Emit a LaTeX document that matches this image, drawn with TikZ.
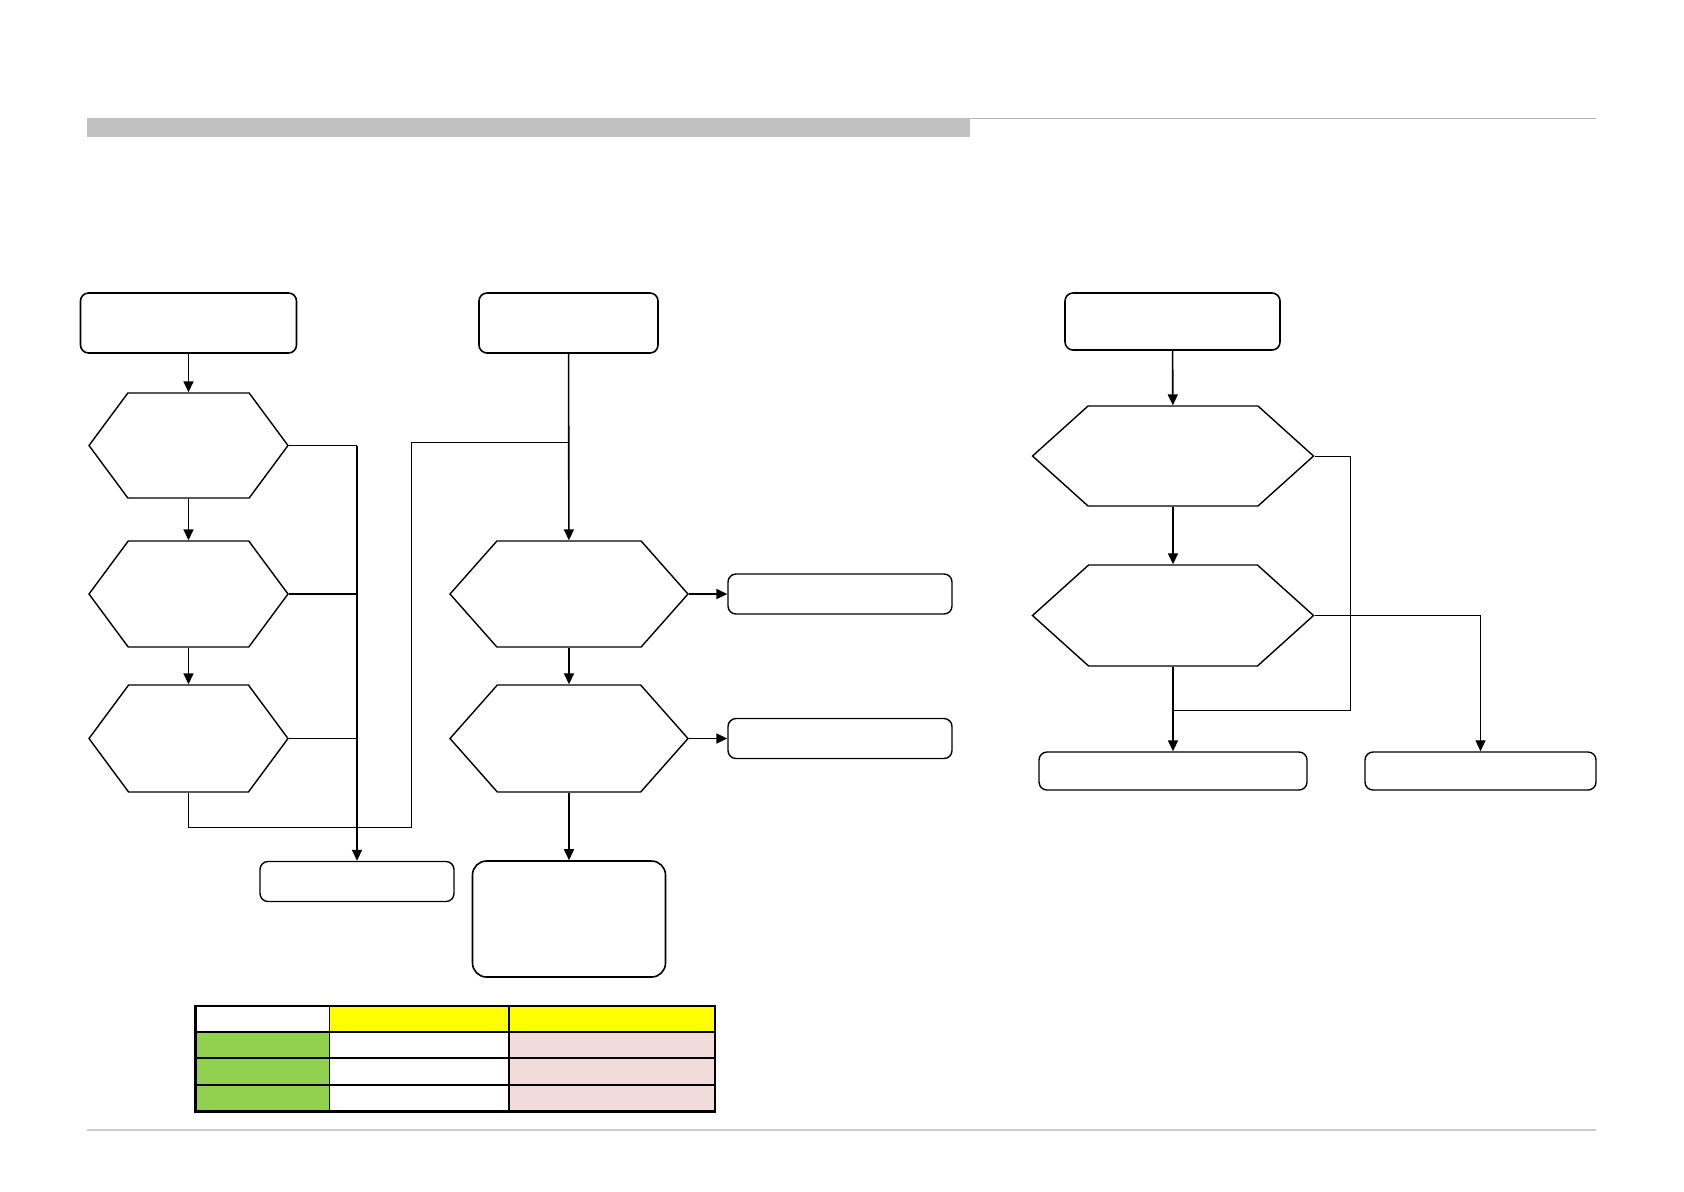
\documentclass[tikz,border=0pt]{standalone}
\usetikzlibrary{arrows.meta,shapes.symbols,calc}
\definecolor{legendgreen}{HTML}{92D050}
\definecolor{legendpink}{HTML}{F2DCDB}
\definecolor{legendyellow}{HTML}{FFFF00}
\definecolor{headgray}{HTML}{C0C0C0}

\begin{document}
\begin{tikzpicture}[x=0.5pt, y=-0.5pt,
    startbox/.style={draw, line width=0.8pt, rounded corners=4pt, minimum width=#1, minimum height=30pt, inner sep=0pt},
    endbox/.style={draw, line width=0.7pt, rounded corners=4pt, minimum width=#1, minimum height=20pt, inner sep=0pt},
    hexbox/.style={draw, line width=0.7pt, signal, signal to=east and west, inner sep=0pt},
    conn/.style={line width=0.8pt, -{Triangle[length=5.5pt,width=5pt]}},
    thinline/.style={line width=0.5pt}]
    \useasboundingbox (0,0) rectangle (1684,1191);
    % header and footer rules
    \fill[headgray] (87,118) rectangle (970,137);
    \draw[gray!60, line width=0.5pt] (970,118) -- (1596,118);
    \draw[gray!40, line width=0.6pt] (87,1130) -- (1596,1130);
    % left column
    \node[startbox=108pt] (startL) at (188.5,323) {};
    \node[hexbox, minimum width=99.5pt, minimum height=52.5pt, signal pointer angle=107] (h1) at (188.5,445.5) {};
    \node[hexbox, minimum width=99.5pt, minimum height=53pt, signal pointer angle=107] (h2) at (188.5,594) {};
    \node[hexbox, minimum width=99.5pt, minimum height=53.5pt, signal pointer angle=107] (h3) at (188.5,738.5) {};
    \node[endbox=97pt] (boxB) at (357,881.5) {};
    % middle column
    \node[startbox=89.5pt] (startM) at (568.5,323) {};
    \node[hexbox, minimum width=119pt, minimum height=53pt, signal pointer angle=97] (h4) at (569,594) {};
    \node[hexbox, minimum width=119pt, minimum height=53.5pt, signal pointer angle=97] (h5) at (569,738.5) {};
    \node[endbox=112pt] (boxD) at (840,594) {};
    \node[endbox=112pt] (boxE) at (840,738.5) {};
    \node[draw, line width=0.8pt, rounded corners=7pt, minimum width=96.5pt, minimum height=58pt] (boxF) at (569,919) {};
    % right column
    \node[startbox=107.5pt, minimum height=28.5pt] (startR) at (1172.5,321.5) {};
    \node[hexbox, minimum width=140.5pt, minimum height=50pt, signal pointer angle=84] (h6) at (1173,456) {};
    \node[hexbox, minimum width=140.5pt, minimum height=50.5pt, signal pointer angle=84] (h7) at (1173,615.5) {};
    \node[endbox=134pt, minimum height=19pt] (boxH) at (1173,771) {};
    \node[endbox=115.5pt, minimum height=19pt] (boxI) at (1480.5,771) {};
    % connectors, left
    \draw[conn] (startL) -- (h1);
    \draw[conn] (h1) -- (h2);
    \draw[conn] (h2) -- (h3);
    \draw[line width=0.7pt] (h1.east) -- (h1.east -| boxB);
    \draw[line width=0.7pt] (h2.east) -- (h2.east -| boxB);
    \draw[line width=0.7pt] (h3.east) -- (h3.east -| boxB);
    \draw[conn] (h1.east -| boxB) -- (boxB);
    \coordinate (loopA) at (188.5,827);
    \coordinate (loopB) at (411,827);
    \coordinate (loopC) at (411,442.5);
    \draw[thinline] (h3.south) -- (loopA) -- (loopB) -- (loopC) -- (loopC -| startM);
    % connectors, middle
    \draw[conn] (startM) -- (h4);
    \draw[conn] (h4) -- (h5);
    \draw[conn] (h5) -- (boxF);
    \draw[conn] (h4.east) -- (h4.east -| boxD.west);
    \draw[conn] (h5.east) -- (h5.east -| boxE.west);
    % connectors, right
    \draw[conn] (startR) -- (h6);
    \draw[conn] (h6) -- (h7);
    \draw[conn] (h7) -- (boxH);
    \coordinate (loopR) at (1350,710);
    \draw[thinline] (h6.east) -- (h6.east -| loopR) -- (loopR) -- (loopR -| h7);
    \draw[conn, line width=0.6pt] (h7.east) -- (h7.east -| boxI) -- (boxI);
    % legend table
    \fill[white] (195.5,1006) rectangle (329.7,1032);
    \fill[legendyellow] (329.7,1006) rectangle (715,1032);
    \fill[legendgreen] (195.5,1032) rectangle (329.7,1111.6);
    \fill[legendpink] (509,1032) rectangle (715,1111.6);
    \foreach \y in {1032,1058,1085} {\draw[line width=0.6pt] (195.5,\y) -- (715,\y);}
    \foreach \x in {329.7,509} {\draw[line width=0.6pt] (\x,1006) -- (\x,1111.6);}
    \draw[line width=1.2pt] (195.5,1006) rectangle (715,1111.6);
\end{tikzpicture}
\end{document}
